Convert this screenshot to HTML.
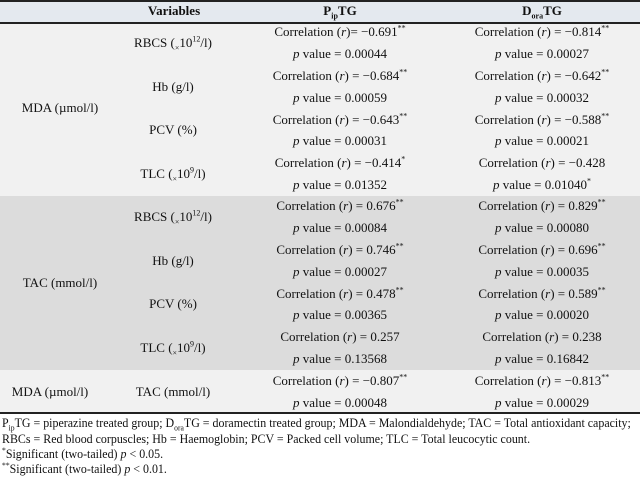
<!DOCTYPE html>
<html><head><style>
body{margin:0;width:640px;height:478px;background:#fff;font-family:"Liberation Serif",serif;font-size:13px;color:#111;position:relative;overflow:hidden}
div.t{position:absolute;white-space:nowrap;transform:translate(-50%,-50%)}
.bg{position:absolute;left:0;width:640px}
.ln{position:absolute;left:0;width:640px;height:1.5px;background:#222}
.f{position:absolute;left:2px;white-space:nowrap;font-size:12.5px;transform:scaleX(0.955);transform-origin:0 0}
sub,sup{font-size:8px;line-height:0}
</style></head><body>
<div class="bg" style="top:1px;height:21px;background:#e4e9ef"></div>
<div class="bg" style="top:22px;height:174px;background:#f1f1f1"></div>
<div class="bg" style="top:196px;height:174px;background:#dcdcdc"></div>
<div class="bg" style="top:370px;height:43px;background:#f1f1f1"></div>
<div class="ln" style="top:0"></div>
<div class="ln" style="top:22px"></div>
<div class="ln" style="top:412px"></div>

<div class="t" style="left:174px;top:11px;font-weight:bold">Variables</div>
<div class="t" style="left:340px;top:11px;font-weight:bold">P<sub>ip</sub>TG</div>
<div class="t" style="left:542px;top:11px;font-weight:bold">D<sub>ora</sub>TG</div>

<div class="t" style="left:60px;top:108px">MDA (µmol/l)</div>
<div class="t" style="left:173px;top:43px">RBCS (<sub>×</sub>10<sup>12</sup>/l)</div>
<div class="t" style="left:173px;top:87px">Hb (g/l)</div>
<div class="t" style="left:173px;top:130px">PCV (%)</div>
<div class="t" style="left:173px;top:174px">TLC (<sub>×</sub>10<sup>9</sup>/l)</div>

<div class="t" style="left:340px;top:32px">Correlation (<i>r</i>)= −0.691<sup>**</sup></div>
<div class="t" style="left:340px;top:54px"><i>p</i> value = 0.00044</div>
<div class="t" style="left:340px;top:76px">Correlation (<i>r</i>) = −0.684<sup>**</sup></div>
<div class="t" style="left:340px;top:98px"><i>p</i> value = 0.00059</div>
<div class="t" style="left:340px;top:120px">Correlation (<i>r</i>) = −0.643<sup>**</sup></div>
<div class="t" style="left:340px;top:141px"><i>p</i> value = 0.00031</div>
<div class="t" style="left:340px;top:163px">Correlation (<i>r</i>) = −0.414<sup>*</sup></div>
<div class="t" style="left:340px;top:185px"><i>p</i> value = 0.01352</div>

<div class="t" style="left:542px;top:32px">Correlation (<i>r</i>) = −0.814<sup>**</sup></div>
<div class="t" style="left:542px;top:54px"><i>p</i> value = 0.00027</div>
<div class="t" style="left:542px;top:76px">Correlation (<i>r</i>) = −0.642<sup>**</sup></div>
<div class="t" style="left:542px;top:98px"><i>p</i> value = 0.00032</div>
<div class="t" style="left:542px;top:120px">Correlation (<i>r</i>) = −0.588<sup>**</sup></div>
<div class="t" style="left:542px;top:141px"><i>p</i> value = 0.00021</div>
<div class="t" style="left:542px;top:163px">Correlation (<i>r</i>) = −0.428</div>
<div class="t" style="left:542px;top:185px"><i>p</i> value = 0.01040<sup>*</sup></div>

<div class="t" style="left:60px;top:283px">TAC (mmol/l)</div>
<div class="t" style="left:173px;top:217px">RBCS (<sub>×</sub>10<sup>12</sup>/l)</div>
<div class="t" style="left:173px;top:261px">Hb (g/l)</div>
<div class="t" style="left:173px;top:304px">PCV (%)</div>
<div class="t" style="left:173px;top:348px">TLC (<sub>×</sub>10<sup>9</sup>/l)</div>

<div class="t" style="left:340px;top:206px">Correlation (<i>r</i>) = 0.676<sup>**</sup></div>
<div class="t" style="left:340px;top:228px"><i>p</i> value = 0.00084</div>
<div class="t" style="left:340px;top:250px">Correlation (<i>r</i>) = 0.746<sup>**</sup></div>
<div class="t" style="left:340px;top:272px"><i>p</i> value = 0.00027</div>
<div class="t" style="left:340px;top:294px">Correlation (<i>r</i>) = 0.478<sup>**</sup></div>
<div class="t" style="left:340px;top:315px"><i>p</i> value = 0.00365</div>
<div class="t" style="left:340px;top:337px">Correlation (<i>r</i>) = 0.257</div>
<div class="t" style="left:340px;top:359px"><i>p</i> value = 0.13568</div>

<div class="t" style="left:542px;top:206px">Correlation (<i>r</i>) = 0.829<sup>**</sup></div>
<div class="t" style="left:542px;top:228px"><i>p</i> value = 0.00080</div>
<div class="t" style="left:542px;top:250px">Correlation (<i>r</i>) = 0.696<sup>**</sup></div>
<div class="t" style="left:542px;top:272px"><i>p</i> value = 0.00035</div>
<div class="t" style="left:542px;top:294px">Correlation (<i>r</i>) = 0.589<sup>**</sup></div>
<div class="t" style="left:542px;top:315px"><i>p</i> value = 0.00020</div>
<div class="t" style="left:542px;top:337px">Correlation (<i>r</i>) = 0.238</div>
<div class="t" style="left:542px;top:359px"><i>p</i> value = 0.16842</div>

<div class="t" style="left:50px;top:392px">MDA (µmol/l)</div>
<div class="t" style="left:173px;top:392px">TAC (mmol/l)</div>
<div class="t" style="left:340px;top:381px">Correlation (<i>r</i>) = −0.807<sup>**</sup></div>
<div class="t" style="left:340px;top:403px"><i>p</i> value = 0.00048</div>
<div class="t" style="left:542px;top:381px">Correlation (<i>r</i>) = −0.813<sup>**</sup></div>
<div class="t" style="left:542px;top:403px"><i>p</i> value = 0.00029</div>

<div class="f" style="top:416px">P<sub>ip</sub>TG = piperazine treated group; D<sub>ora</sub>TG = doramectin treated group; MDA = Malondialdehyde; TAC = Total antioxidant capacity;</div>
<div class="f" style="top:432px">RBCs = Red blood corpuscles; Hb = Haemoglobin; PCV = Packed cell volume; TLC = Total leucocytic count.</div>
<div class="f" style="top:447px"><sup>*</sup>Significant (two-tailed) <i>p</i> &lt; 0.05.</div>
<div class="f" style="top:462px"><sup>**</sup>Significant (two-tailed) <i>p</i> &lt; 0.01.</div>
</body></html>
